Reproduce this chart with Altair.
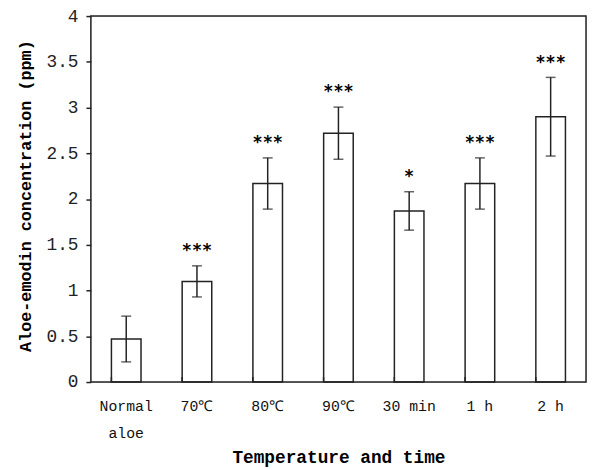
import altair as alt
import pandas as pd

categories = ["Normal aloe", "70℃", "80℃", "90℃", "30 min", "1 h", "2 h"]
means = [0.47, 1.10, 2.17, 2.72, 1.87, 2.17, 2.90]
sds = [0.25, 0.17, 0.28, 0.285, 0.21, 0.28, 0.43]
stars = ["", "***", "***", "***", "*", "***", "***"]

df = pd.DataFrame({"cat": categories, "mean": means, "sd": sds, "star": stars})
df["lo"] = df["mean"] - df["sd"]
df["hi"] = df["mean"] + df["sd"]

FONT = "Liberation Mono"
LINE = "#222222"
W, H = 502, 371

x = alt.X("cat:N", sort=categories,
          scale=alt.Scale(paddingInner=0.58, paddingOuter=0.29),
          axis=alt.Axis(title="Temperature and time", labelAngle=0,
                        ticks=False, domain=False,
                        labelExpr="datum.label == 'Normal aloe' ? ['Normal','aloe'] : datum.label",
                        labelFont=FONT, labelFontSize=15, labelColor="#111",
                        labelLineHeight=27, labelPadding=24, labelBaseline="middle",
                        titleFont=FONT, titleFontSize=18, titleFontWeight="bold",
                        titleColor="#000", titleY=77, titleBaseline="middle"))

y = alt.Y("mean:Q", scale=alt.Scale(domain=[0, 4]),
          axis=alt.Axis(title="Aloe-emodin concentration (ppm)",
                        values=[0, 0.5, 1, 1.5, 2, 2.5, 3, 3.5, 4], format="~g",
                        grid=False, domain=False, tickSize=5, tickColor=LINE,
                        tickWidth=1.5, labelPadding=8,
                        labelFont=FONT, labelFontSize=18, labelColor="#222",
                        titleFont=FONT, titleFontSize=17, titleFontWeight="bold",
                        titleColor="#000", titleX=-66, titleY=182,
                        titleAlign="center", titleBaseline="middle"))

base = alt.Chart(df)

bars = base.mark_bar(fill="white", stroke=LINE, strokeWidth=1.5, width=30).encode(x=x, y=y)

err = base.mark_rule(color=LINE, strokeWidth=1.5).encode(
    x=alt.X("cat:N", sort=categories), y="lo:Q", y2="hi:Q")
cap_hi = base.mark_tick(color=LINE, thickness=1.5, size=10).encode(
    x=alt.X("cat:N", sort=categories), y="hi:Q")
cap_lo = base.mark_tick(color=LINE, thickness=1.5, size=10).encode(
    x=alt.X("cat:N", sort=categories), y="lo:Q")

star_text = base.mark_text(font="DejaVu Sans Mono", fontSize=17, fontWeight="bold",
                           baseline="middle", dy=-15, color="#000").encode(
    x=alt.X("cat:N", sort=categories), y="hi:Q", text="star:N")

xticks = base.mark_rule(color=LINE, strokeWidth=1.5).encode(
    x=alt.X("cat:N", sort=categories, bandPosition=0),
    y=alt.value(H), y2=alt.value(H - 5))

frame = alt.Chart(pd.DataFrame({"k": [0]})).mark_rect(
    fill=None, stroke=LINE, strokeWidth=1.5).encode(
    x=alt.value(0), x2=alt.value(W), y=alt.value(0), y2=alt.value(H))

chart = alt.layer(bars, err, cap_hi, cap_lo, star_text, xticks, frame).properties(
    width=W, height=H,
    autosize=alt.AutoSizeParams(type="none"),
    padding={"left": 84, "top": 5, "right": 1, "bottom": 86},
).configure_view(stroke=None).configure(background="white")

chart.save("out.html", embed_options={"renderer": "svg", "actions": False})
